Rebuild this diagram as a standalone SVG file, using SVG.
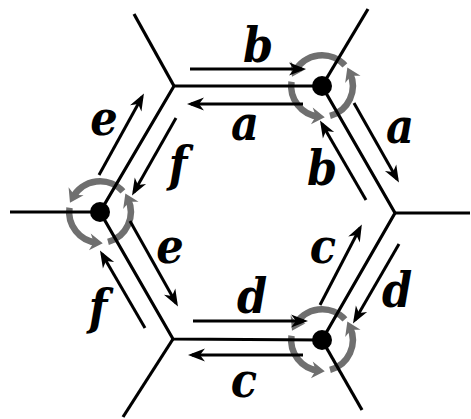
<svg xmlns="http://www.w3.org/2000/svg" width="471" height="419" viewBox="0 0 471 419">
<style>
.ln{stroke:#000;stroke-width:3.2;fill:none;stroke-linecap:butt;stroke-linejoin:miter}
.ar{stroke:#000;stroke-width:3;fill:none;marker-end:url(#ah)}
.sw{stroke:#6f6f6f;stroke-width:6.5;fill:none;marker-end:url(#gh)}
</style>
<defs>
<marker id="ah" markerUnits="userSpaceOnUse" markerWidth="20" markerHeight="20" refX="0" refY="0" orient="auto" overflow="visible">
<path d="M4,0 L-13,-6.5 L-8,0 L-13,6.5 Z" fill="#000"/>
</marker>
<marker id="gh" markerUnits="userSpaceOnUse" markerWidth="20" markerHeight="20" refX="0" refY="0" orient="auto" overflow="visible">
<path d="M6,0 L-7,-8.5 L-3,0 L-7,8.5 Z" fill="#6f6f6f"/>
</marker>
<g id="swirl">
<path class="sw" d="M22.9,-20.6 A30.8,30.8 0 0 0 -27.2,-14.5"/>
<path class="sw" d="M-30.5,-4.3 A30.8,30.8 0 0 0 -3.2,30.6"/>
<path class="sw" d="M8,29.8 A30.8,30.8 0 0 0 27.9,-13"/>
</g>
</defs>
<g id="node-top-right">
<use href="#swirl" transform="translate(322,86)"/>
<circle cx="322" cy="86" r="10" fill="#000"/>
</g>
<g id="node-left">
<use href="#swirl" transform="translate(100,212)"/>
<circle cx="100" cy="212" r="10" fill="#000"/>
</g>
<g id="node-bottom-right">
<use href="#swirl" transform="translate(322,340)"/>
<circle cx="322" cy="340" r="10" fill="#000"/>
</g>
<g id="connectors">
<polygon class="ln" points="174,86 322,86 395,213 322,340 173,339 100,212"/>
<line class="ln" x1="174" y1="86" x2="134" y2="14"/>
<line class="ln" x1="322" y1="86" x2="368" y2="9"/>
<line class="ln" x1="395" y1="213" x2="470" y2="213"/>
<line class="ln" x1="322" y1="340" x2="362" y2="410"/>
<line class="ln" x1="173" y1="339" x2="123" y2="417"/>
<line class="ln" x1="100" y1="212" x2="10" y2="212"/>
<line class="ar" x1="190" y1="69" x2="302" y2="69"/>
<line class="ar" x1="303" y1="104" x2="191" y2="104"/>
<line class="ar" x1="354" y1="103" x2="397" y2="179"/>
<line class="ar" x1="366" y1="200" x2="322" y2="124"/>
<line class="ar" x1="320" y1="305" x2="360" y2="228"/>
<line class="ar" x1="399" y1="244" x2="355" y2="320"/>
<line class="ar" x1="193" y1="321" x2="304" y2="321"/>
<line class="ar" x1="303" y1="355" x2="192" y2="355"/>
<line class="ar" x1="130" y1="221" x2="176" y2="303"/>
<line class="ar" x1="145" y1="328" x2="102" y2="254"/>
<line class="ar" x1="99" y1="175" x2="142" y2="97"/>
<line class="ar" x1="176" y1="118" x2="134" y2="192"/>
<g font-family="'DejaVu Serif Condensed', 'DejaVu Serif', serif" font-weight="bold" font-style="italic" font-size="48" text-anchor="middle" fill="#000">
<text x="258" y="62">b</text>
<text x="245" y="140">a</text>
<text x="400" y="143">a</text>
<text x="322" y="185">b</text>
<text x="323" y="263">c</text>
<text x="397" y="307">d</text>
<text x="252" y="313">d</text>
<text x="244" y="397">c</text>
<text x="170" y="263">e</text>
<text x="98" y="324">f</text>
<text x="104" y="135">e</text>
<text x="178" y="181">f</text>
</g>
</g>
</svg>
